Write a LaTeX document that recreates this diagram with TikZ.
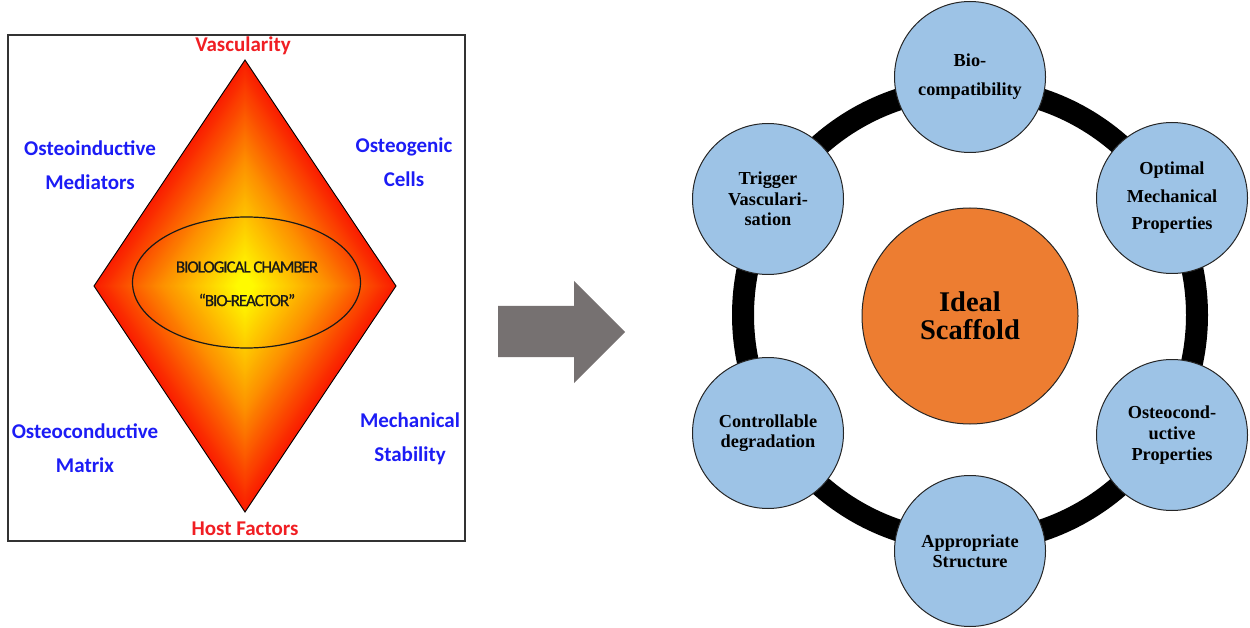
\documentclass[tikz,border=0pt]{standalone}
\usepackage{fontspec}
\setmainfont{Liberation Serif}
\newfontfamily\lblfnt{Carlito}
\newfontfamily\biofnt{Carlito}[LetterSpace=-6,FakeBold=0.8]
\newfontfamily\tnrfnt{Liberation Serif}
\definecolor{gR}{RGB}{250,28,0}
\definecolor{gO}{RGB}{253,145,0}
\definecolor{gY}{RGB}{255,250,0}
\definecolor{lblue}{RGB}{28,28,245}
\definecolor{lred}{RGB}{240,30,35}
\definecolor{bubfill}{RGB}{157,195,230}
\definecolor{midfill}{RGB}{237,125,49}
\definecolor{arrowgray}{RGB}{118,113,113}
\tikzset{
  leftlbl/.style={align=center, inner sep=0pt, font=\lblfnt\bfseries\fontsize{21}{33.5}\selectfont},
  bluelbl/.style={leftlbl, text=lblue},
  redlbl/.style={leftlbl, text=lred},
  biolbl/.style={align=center, inner sep=0pt, text=black!90, font=\biofnt\fontsize{17}{33}\selectfont},
  bub/.style={circle, draw=black!85, line width=1pt, fill=bubfill, minimum size=151pt, inner sep=0pt, align=center},
  bubtxt/.style={font=\tnrfnt\bfseries\fontsize{18.3}{#1}\selectfont},
  midc/.style={circle, draw=black!85, line width=1pt, fill=midfill, minimum size=216pt, inner sep=0pt, align=center, font=\tnrfnt\bfseries\fontsize{28.5}{28}\selectfont}
}
\begin{document}
\begin{tikzpicture}[x=1pt,y=-1pt]
\useasboundingbox (0,0) rectangle (1250,628);
% ---------- left panel ----------
\draw[line width=1.2pt, draw=black!80] (8,35) rectangle (465,541);
\coordinate (dc) at (245,286);
\foreach \i in {0,...,89}{
  \pgfmathsetmacro\s{1-\i/90}
  \pgfmathsetmacro\tr{max(0,min(100,(\s-0.55)/0.45*100))}
  \pgfmathsetmacro\to{max(0,min(100,(\s-0.06)/0.49*100))}
  \ifdim\s pt>0.55pt \colorlet{cc}{gR!\tr!gO}\else\colorlet{cc}{gO!\to!gY}\fi
  \fill[cc, shift={(dc)}, scale=\s] (0,-226) -- (151,0) -- (0,226) -- (-151,0) -- cycle;
}
\draw[line width=0.9pt, black, line join=miter, shift={(dc)}] (0,-226) -- (151,0) -- (0,226) -- (-151,0) -- cycle;
\draw[line width=1.2pt, black!90] (246.5,282.5) ellipse [x radius=114pt, y radius=65.5pt];
\node[biolbl] (chamber) at (247,267) {BIOLOGICAL CHAMBER};
\node[biolbl] (reactor) at (247,300) {“BIO-REACTOR”};
\node[redlbl] (vasc) at (243,46) {Vascularity};
\node[redlbl] (host) at (245,529) {Host Factors};
\node[bluelbl] (oind) at (90,165) {Osteoinductive\\Mediators};
\node[bluelbl] (ogen) at (404,162) {Osteogenic\\Cells};
\node[bluelbl] (ocon) at (85,448) {Osteoconductive\\Matrix};
\node[bluelbl] (mech) at (410,439) {Mechanical\\Stability};
% ---------- arrow ----------
\fill[arrowgray] (498,306) -- (574,306) -- (574,281) -- (625,332) -- (574,383) -- (574,357) -- (498,357) -- cycle;
% ---------- right panel ----------
\draw[line width=22pt, black] (970,315) circle [radius=227pt];
\node[midc] (ideal) at (970,316) {Ideal\\Scaffold};
\node[bub, bubtxt=29] (bio) at (970,77) {Bio-\\compatibility};
\node[bub, bubtxt=27.5] (opt) at (1172,198) {Optimal\\Mechanical\\Properties};
\node[bub, bubtxt=21] (ocp) at (1172,435) {Osteocond-\\uctive\\Properties};
\node[bub, bubtxt=20] (app) at (970,551) {Appropriate\\Structure};
\node[bub, bubtxt=20] (ctrl) at (768,433) {Controllable\\degradation};
\node[bub, bubtxt=20.5] (trig) at (768,199) {Trigger\\Vasculari-\\sation};
\end{tikzpicture}
\end{document}
